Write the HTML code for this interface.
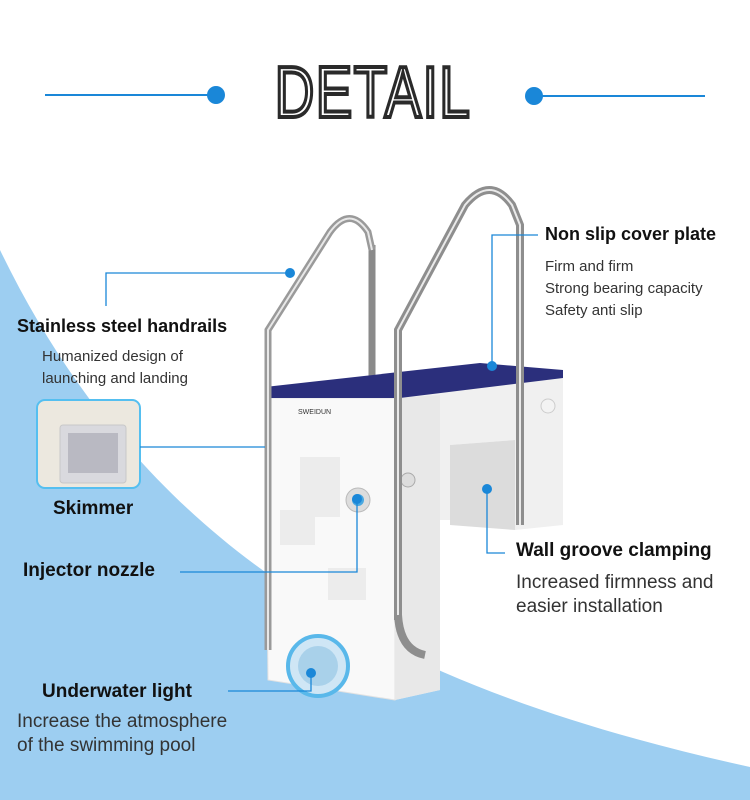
<!DOCTYPE html>
<html><head><meta charset="utf-8"><style>
html,body{margin:0;padding:0;background:#fff;}
body{width:750px;height:800px;position:relative;overflow:hidden;font-family:"Liberation Sans",sans-serif;color:#111;}
.t{position:absolute;white-space:nowrap;}
.b{font-weight:bold;}
</style></head><body>
<svg width="750" height="800" style="position:absolute;left:0;top:0">
<path d="M0,250 C150,560 400,690 750,767 L750,800 L0,800 Z" fill="#9dcef1"/>
<line x1="45" y1="95" x2="212" y2="95" stroke="#1a87d8" stroke-width="2"/>
<circle cx="216" cy="95" r="9" fill="#1a87d8"/>
<circle cx="534" cy="96" r="9" fill="#1a87d8"/>
<line x1="538" y1="96" x2="705" y2="96" stroke="#1a87d8" stroke-width="2"/>
<text x="373" y="117" font-family="Liberation Sans" font-size="72" text-anchor="middle" fill="#fff" stroke="#2a2a2a" stroke-width="4" transform="translate(373,0) scale(0.76,1) translate(-373,0)" letter-spacing="2">DETAIL</text>
<path d="M372,245 L372,395" stroke="#8a8a8a" stroke-width="7" fill="none"/>
<polygon points="395,398 563,378 563,525 515,530 515,440 450,445 450,520 440,520 440,690 395,700" fill="#f0f0f0"/>
<polygon points="450,445 515,440 515,530 450,525" fill="#dcdcdc"/>
<polygon points="265,398 395,398 395,700 268,680" fill="#f9f9f9" stroke="#e2e2e2"/>
<polygon points="395,398 440,395 440,690 395,700" fill="#e8e8e8"/>
<polygon points="265,387 480,363 563,370 563,378 400,398 265,398" fill="#2b2f7c"/>
<polygon points="300,457 340,457 340,517 300,517" fill="#ececec"/>
<polygon points="280,510 315,510 315,545 280,545" fill="#ececec"/>
<polygon points="328,568 366,568 366,600 328,600" fill="#ececec"/>
<text x="298" y="414" font-size="7" fill="#333">SWEIDUN</text>
<circle cx="358" cy="500" r="12" fill="#ddd" stroke="#bbb"/>
<circle cx="358" cy="500" r="6" fill="#4aa8e0"/>
<circle cx="318" cy="666" r="30" fill="#cfe6f5" stroke="#59b8ea" stroke-width="4"/>
<circle cx="318" cy="666" r="20" fill="#a9d1ea"/>
<circle cx="408" cy="480" r="7" fill="#ddd" stroke="#aaa"/>
<circle cx="548" cy="406" r="7" fill="#f3f3f3" stroke="#ccc"/>
<path d="M268,650 L268,330 L330,232 Q350,205 368,232 L372,250" stroke="#9a9a9a" stroke-width="7" fill="none"/>
<path d="M268,650 L268,330 L330,232 Q350,205 368,232 L372,250" stroke="#e8e8e8" stroke-width="2" fill="none"/>
<path d="M398,620 L398,330 L465,205 Q490,175 512,205 L520,225 L520,525" stroke="#8e8e8e" stroke-width="8" fill="none"/>
<path d="M398,620 L398,330 L465,205 Q490,175 512,205 L520,225 L520,525" stroke="#eaeaea" stroke-width="2" fill="none"/>
<path d="M398,615 Q400,650 425,655" stroke="#8e8e8e" stroke-width="8" fill="none"/>
<rect x="37" y="400" width="103" height="88" rx="8" fill="#ece8df" stroke="#55bff0" stroke-width="2"/>
<rect x="60" y="425" width="66" height="58" rx="3" fill="#d9d9de" stroke="#c8c8c8"/>
<rect x="68" y="433" width="50" height="40" fill="#b9b9c2"/>
<g stroke="#1a87d8" stroke-width="1.3" fill="none">
<polyline points="106,306 106,273 290,273"/>
<polyline points="492,366 492,235 538,235"/>
<polyline points="140,447 265,447"/>
<polyline points="357,499 357,572 180,572"/>
<polyline points="487,489 487,553 505,553"/>
<polyline points="311,673 311,691 228,691"/>
</g>
<g fill="#1a87d8">
<circle cx="290" cy="273" r="5"/><circle cx="492" cy="366" r="5"/>
<circle cx="357" cy="499" r="5"/><circle cx="487" cy="489" r="5"/><circle cx="311" cy="673" r="5"/>
</g>
</svg>
<div class="t b" style="left:17px;top:316px;font-size:18px">Stainless steel handrails</div>
<div class="t" style="left:42px;top:346px;font-size:15px;color:#333;line-height:22px">Humanized design of<br>launching and landing</div>
<div class="t b" style="left:53px;top:498px;font-size:19px">Skimmer</div>
<div class="t b" style="left:23px;top:560px;font-size:19px">Injector nozzle</div>
<div class="t b" style="left:42px;top:681px;font-size:19px">Underwater light</div>
<div class="t" style="left:17px;top:710px;font-size:19px;color:#333;line-height:24px">Increase the atmosphere<br>of the swimming pool</div>
<div class="t b" style="left:545px;top:224px;font-size:18px">Non slip cover plate</div>
<div class="t" style="left:545px;top:256px;font-size:15px;color:#333;line-height:22px">Firm and firm<br>Strong bearing capacity<br>Safety anti slip</div>
<div class="t b" style="left:516px;top:540px;font-size:19px">Wall groove clamping</div>
<div class="t" style="left:516px;top:571px;font-size:19px;color:#333;line-height:24px">Increased firmness and<br>easier installation</div>
</body></html>
